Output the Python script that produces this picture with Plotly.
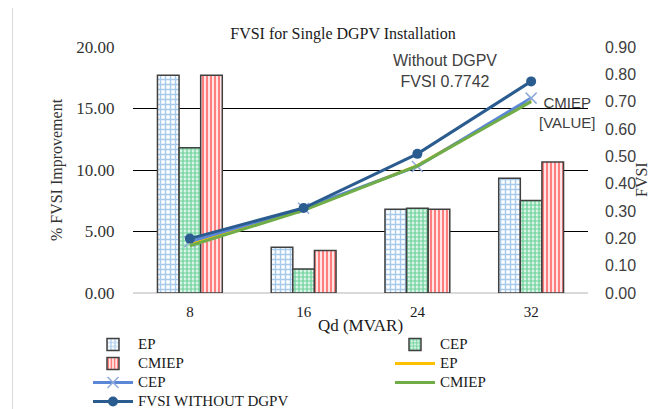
import plotly.graph_objects as go

# ---------------- data ----------------
categories = ["8", "16", "24", "32"]

ep_improve = [17.7, 3.72, 6.8, 9.32]
cep_improve = [11.8, 1.96, 6.9, 7.53]
cmiep_improve = [17.7, 3.45, 6.8, 10.65]

ep_fvsi = [0.178, 0.305, 0.466, 0.705]
cep_fvsi = [0.188, 0.310, 0.463, 0.713]
cmiep_fvsi = [0.173, 0.302, 0.465, 0.700]
fvsi_without = [0.199, 0.311, 0.509, 0.7742]

left_ticks = [0, 5, 10, 15, 20]
left_ticklabels = ["0.00", "5.00", "10.00", "15.00", "20.00"]
right_ticks = [0, 0.1, 0.2, 0.3, 0.4, 0.5, 0.6, 0.7, 0.8, 0.9]
right_ticklabels = ["0.00", "0.10", "0.20", "0.30", "0.40", "0.50",
                    "0.60", "0.70", "0.80", "0.90"]

# ---------------- styling ----------------
SERIF = "Liberation Serif, Times New Roman, serif"
SANS = "Liberation Sans, Arial, sans-serif"
OFF = 8                      # page body margin of the html page
W, H = 661 - OFF, 409 - OFF
PL, PR, PT, PB = 133, 588, 47, 293   # plot area in window pixels
ML, MR, MT, MB = PL - OFF, W - (PR - OFF), PT - OFF, H - (PB - OFF)
PW, PH = PR - PL, PB - PT


def px_x(x):
    return (x - PL) / PW


def px_y(y):
    return (PB - y) / PH


def lname(t):
    return f"<span style='font-size:15px'>{t}</span>"


fig = go.Figure()

bar_line = dict(color="#404040", width=1.5)
fig.add_trace(go.Bar(
    x=categories, y=ep_improve, name=lname("EP"), legend="legend",
    marker=dict(color="white", line=bar_line,
                pattern=dict(shape="+", fgcolor="#4F95D8", bgcolor="white",
                             size=5, solidity=0.5)),
))
fig.add_trace(go.Bar(
    x=categories, y=cep_improve, name=lname("CEP"), legend="legend2",
    marker=dict(color="white", line=bar_line,
                pattern=dict(shape=".", fgcolor="#00B050", bgcolor="white",
                             size=4, solidity=0.7)),
))
fig.add_trace(go.Bar(
    x=categories, y=cmiep_improve, name=lname("CMIEP"), legend="legend",
    marker=dict(color="white", line=bar_line,
                pattern=dict(shape="|", fgcolor="#FF0000", bgcolor="white",
                             size=4, solidity=0.6)),
))

fig.add_trace(go.Scatter(
    x=categories, y=ep_fvsi, yaxis="y2", name=lname("EP"), legend="legend2",
    mode="lines", line=dict(color="#FFC000", width=3),
))
fig.add_trace(go.Scatter(
    x=categories, y=cep_fvsi, yaxis="y2", name=lname("CEP"), legend="legend",
    mode="lines+markers", line=dict(color="#5B87D6", width=3),
    marker=dict(symbol="x-thin", size=11, line=dict(color="#8EAADB", width=1.5)),
))
fig.add_trace(go.Scatter(
    x=categories, y=cmiep_fvsi, yaxis="y2", name=lname("CMIEP"), legend="legend2",
    mode="lines", line=dict(color="#70AD47", width=3),
))
fig.add_trace(go.Scatter(
    x=categories, y=fvsi_without, yaxis="y2", name=lname("FVSI WITHOUT DGPV"),
    legend="legend",
    mode="lines+markers", line=dict(color="#2B5C8F", width=3),
    marker=dict(symbol="circle", size=10, color="#2B5C8F"),
))

fig.update_layout(
    width=W, height=H,
    margin=dict(l=ML, r=MR, t=MT, b=MB, autoexpand=False),
    paper_bgcolor="white", plot_bgcolor="white",
    barmode="group", bargap=0.43, bargroupgap=0,
    font=dict(family=SERIF, color="#262626"),
    title=dict(text="FVSI for Single DGPV Installation",
               font=dict(family=SERIF, size=16, color="#1a1a1a"),
               x=px_x(343), xref="paper", xanchor="center",
               y=1 - (33 - OFF) / H, yref="container", yanchor="middle"),
    xaxis=dict(type="category", showgrid=False, showline=False, ticks="",
               tickfont=dict(family=SERIF, size=15, color="#1a1a1a"),
               ticklabelstandoff=8,
               title=dict(text="Qd (MVAR)", standoff=0,
                          font=dict(family=SERIF, size=17, color="#1a1a1a"))),
    yaxis=dict(range=[0, 20], tickvals=left_ticks, ticktext=left_ticklabels,
               showgrid=True, gridcolor="#000000", gridwidth=1,
               zeroline=True, zerolinecolor="#D9D9D9", zerolinewidth=2,
               showline=False, ticks="outside", ticklen=14,
               tickcolor="rgba(0,0,0,0)",
               tickfont=dict(family=SERIF, size=17, color="#333333"),
               title=dict(text="% FVSI Improvement", standoff=9,
                          font=dict(family=SERIF, size=16, color="#333333"))),
    yaxis2=dict(range=[0, 0.9], tickvals=right_ticks, ticktext=right_ticklabels,
                overlaying="y", side="right", showgrid=False, zeroline=False,
                showline=False, ticks="", ticklabelstandoff=16,
                tickfont=dict(family=SANS, size=16, color="#404040")),
    legend=dict(x=px_x(88), y=px_y(330), xanchor="left", yanchor="top",
                orientation="v", font=dict(family=SERIF, size=12, color="#1a1a1a"),
                itemwidth=40, bgcolor="rgba(0,0,0,0)", traceorder="normal"),
    legend2=dict(x=px_x(390), y=px_y(330), xanchor="left", yanchor="top",
                 orientation="v", font=dict(family=SERIF, size=12, color="#1a1a1a"),
                 itemwidth=40, bgcolor="rgba(0,0,0,0)", traceorder="normal"),
    shapes=[dict(type="rect", xref="paper", yref="paper",
                 x0=px_x(12.5), x1=px_x(663), y0=px_y(413), y1=px_y(7.5),
                 line=dict(color="#D9D9D9", width=1), fillcolor="rgba(0,0,0,0)",
                 layer="below")],
    annotations=[
        dict(text="Without DGPV<br>FVSI 0.7742", xref="paper", yref="paper",
             x=px_x(445), y=px_y(71), xanchor="center", yanchor="middle",
             showarrow=False, font=dict(family=SANS, size=16, color="#404040")),
        dict(text="CMIEP<br>[VALUE]", xref="paper", yref="paper",
             x=px_x(567), y=px_y(112), xanchor="center", yanchor="middle",
             showarrow=False, font=dict(family=SANS, size=15, color="#404040")),
        dict(text="FVSI", xref="paper", yref="paper", textangle=-90,
             x=px_x(641), y=px_y(180), xanchor="center", yanchor="middle",
             showarrow=False, font=dict(family=SERIF, size=16, color="#333333")),
    ],
)

fig.write_html("out.html")
